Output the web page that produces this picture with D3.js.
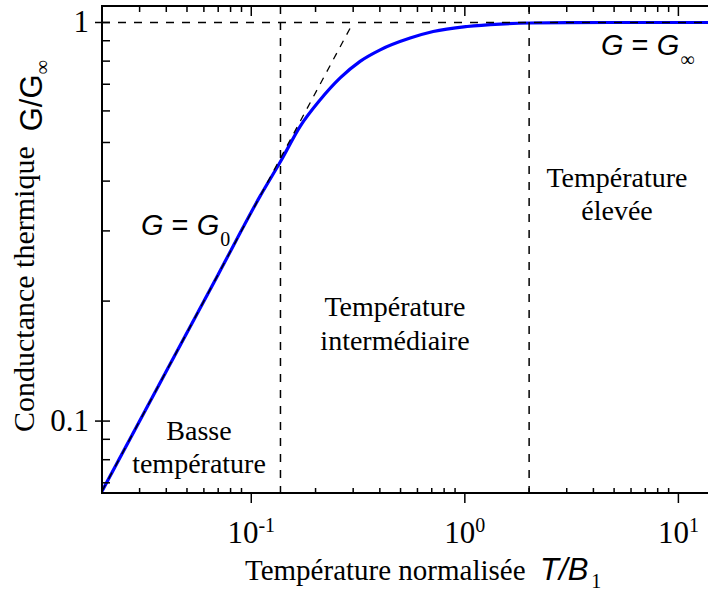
<!DOCTYPE html>
<html><head><meta charset="utf-8">
<script src="https://cdn.jsdelivr.net/npm/d3@7"></script>
<style>body{margin:0;background:#fff;overflow:hidden} svg{display:block}</style>
</head><body>
<svg id="chart" width="708" height="593"></svg>
<script>
// ---- data ----
const curveT = [0.02, 0.04, 0.07, 0.11, 0.1377, 0.1694, 0.2103, 0.2608, 0.3232, 0.4015, 0.5546, 0.711, 1.025, 1.463, 2.02, 3.0, 5.0, 15];
const curveG = [0.0667, 0.1333, 0.2333, 0.3667, 0.450, 0.549, 0.640, 0.726, 0.799, 0.854, 0.914, 0.949, 0.977, 0.991, 0.997, 0.999, 1.0, 1.0];
const asymT = [0.02, 0.30];          // low-temperature asymptote G = G0
const asymG = [0.0667, 1.0];
const limitG = 1.0;                  // high-temperature limit G = G_inf
const boundaryT = [0.137, 2.0];      // regime boundaries
const xDomain = [0.02, 15];
const yDomain = [0.066, 1.1];
const xMajor = [0.1, 1, 10];
const xMajorExp = ["-1", "0", "1"];
const yMajor = [0.1, 1];
const yMajorLabels = ["0.1", "1"];
const regionLow = ["Basse", "température"];
const regionMid = ["Température", "intermédiaire"];
const regionHigh = ["Température", "élevée"];
const xTitle = "Température normalisée";
const yTitle = "Conductance thermique";

// ---- layout ----
const L = 102, T0 = 6, R = 716, B = 493;
const SERIF = "'Liberation Serif','Times New Roman',serif";
const SANS = "'Liberation Sans',Arial,sans-serif";

const svg = d3.select("#chart");
const x = d3.scaleLog().domain(xDomain).range([L, R]);
const y = d3.scaleLog().domain(yDomain).range([B, T0]);

svg.append("defs").append("clipPath").attr("id", "plotclip")
  .append("rect").attr("x", L).attr("y", T0).attr("width", R - L).attr("height", B - T0);

const plot = svg.append("g").attr("clip-path", "url(#plotclip)");

// blue curve
const line = d3.line().x(d => x(d[0])).y(d => y(d[1])).curve(d3.curveMonotoneX);
plot.append("path")
  .datum(curveT.map((t, i) => [t, curveG[i]]))
  .attr("d", line)
  .attr("fill", "none").attr("stroke", "#0000ff").attr("stroke-width", 3.2);

// dashed guides
const dash = "8,8";
plot.append("line").attr("x1", L).attr("x2", R).attr("y1", y(limitG)).attr("y2", y(limitG))
  .attr("stroke", "#000").attr("stroke-width", 1.5).attr("stroke-dasharray", dash);
plot.selectAll("line.vb").data(boundaryT).enter().append("line").attr("class", "vb")
  .attr("x1", d => x(d)).attr("x2", d => x(d)).attr("y1", T0).attr("y2", B)
  .attr("stroke", "#000").attr("stroke-width", 1.5).attr("stroke-dasharray", dash);
plot.append("path")
  .datum(asymT.map((t, i) => [t, asymG[i]]))
  .attr("d", d3.line().x(d => x(d[0])).y(d => y(d[1])))
  .attr("fill", "none").attr("stroke", "#000").attr("stroke-width", 1.3).attr("stroke-dasharray", "7,7");

// frame
svg.append("rect").attr("x", L).attr("y", T0).attr("width", R - L).attr("height", B - T0)
  .attr("fill", "none").attr("stroke", "#000").attr("stroke-width", 2);

// ticks
const axes = svg.append("g").attr("stroke", "#000").attr("stroke-width", 1.5);
const xt = x.ticks();
const yt = y.ticks();
const isMajX = v => xMajor.some(m => Math.abs(m - v) / m < 1e-6);
const isMajY = v => yMajor.some(m => Math.abs(m - v) / m < 1e-6);
xt.forEach(v => {
  const px = x(v);
  if (px <= L + 1 || px >= R - 1) return;
  const maj = isMajX(v);
  if (maj) axes.append("line").attr("x1", px).attr("x2", px).attr("y1", B).attr("y2", B + 10);
  else axes.append("line").attr("x1", px).attr("x2", px).attr("y1", B).attr("y2", B - 5);
  axes.append("line").attr("x1", px).attr("x2", px).attr("y1", T0).attr("y2", T0 + (maj ? 10 : 6));
});
yt.forEach(v => {
  const py = y(v);
  if (py >= B - 1 || py <= T0 + 1) return;
  const maj = isMajY(v);
  axes.append("line").attr("y1", py).attr("y2", py).attr("x1", maj ? L - 7 : L).attr("x2", L + 8);
  axes.append("line").attr("y1", py).attr("y2", py).attr("x1", R - 8).attr("x2", maj ? R + 7 : R);
});

// tick labels
const tl = svg.append("g").attr("font-family", SERIF).attr("fill", "#000");
yMajor.forEach((v, i) => {
  tl.append("text").attr("x", 89).attr("y", y(v) + 10).attr("text-anchor", "end")
    .attr("font-size", 31).text(yMajorLabels[i]);
});
xMajor.forEach((v, i) => {
  const t = tl.append("text").attr("x", x(v)).attr("y", 543).attr("text-anchor", "middle").attr("font-size", 31);
  t.append("tspan").text("10");
  t.append("tspan").attr("font-size", 20).attr("dy", -11).text(xMajorExp[i]);
});

// axis titles
const xt2 = svg.append("text").attr("x", 245).attr("y", 580).attr("fill", "#000");
xt2.append("tspan").attr("font-family", SERIF).attr("font-size", 29).text(xTitle + "\u00a0\u00a0");
xt2.append("tspan").attr("font-family", SANS).attr("font-style", "italic").attr("font-size", 31).text("T/B");
xt2.append("tspan").attr("font-family", SERIF).attr("font-size", 20).attr("dy", 8).attr("dx", 3).text("1");

const yt2 = svg.append("text").attr("transform", "translate(34,432) rotate(-90)").attr("fill", "#000");
yt2.append("tspan").attr("font-family", SERIF).attr("font-size", 30).text(yTitle + "\u00a0\u00a0");
yt2.append("tspan").attr("font-family", SANS).attr("font-size", 31).attr("dy", 8).text("G/G");
yt2.append("tspan").attr("font-family", SERIF).attr("font-size", 20).attr("dy", 7).text("\u221e");

// region labels
const rl = svg.append("g").attr("font-family", SERIF).attr("font-size", 28).attr("fill", "#000").attr("text-anchor", "middle");
function twoLines(lines, cx, y1, gap) {
  lines.forEach((s, i) => rl.append("text").attr("x", cx).attr("y", y1 + i * gap).text(s));
}
twoLines(regionLow, 199, 440, 33);
twoLines(regionMid, 395, 316, 34);
twoLines(regionHigh, 617, 187, 33);

// G = G0 and G = G_inf
function gLabel(x0, y0, sub) {
  const t = svg.append("text").attr("x", x0).attr("y", y0).attr("fill", "#000").attr("font-size", 29).attr("font-family", SANS);
  t.append("tspan").attr("font-style", "italic").text("G");
  t.append("tspan").text(" = ");
  t.append("tspan").attr("font-style", "italic").text("G");
  t.append("tspan").attr("font-family", SERIF).attr("font-size", 20).attr("dy", 11).attr("dx", 1).text(sub);
}
gLabel(141, 235, "0");
gLabel(601, 55, "\u221e");
</script>
</body></html>
